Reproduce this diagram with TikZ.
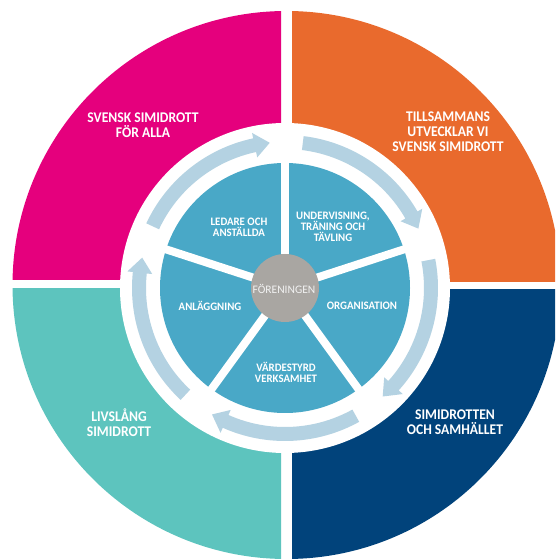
\documentclass[tikz,border=0pt]{standalone}
\usepackage{fontspec}
\newfontfamily\outerfont[FakeStretch=0.92]{Carlito}
\newfontfamily\innerfont[FakeStretch=0.95]{Carlito}
\newfontfamily\hubfont{Carlito}
\definecolor{pinkc}{HTML}{E5007D}
\definecolor{orangec}{HTML}{E96A2D}
\definecolor{tealc}{HTML}{5DC4BE}
\definecolor{navyc}{HTML}{01437B}
\definecolor{bluec}{HTML}{49A8C7}
\definecolor{arrowc}{HTML}{B4D2E2}
\definecolor{grayc}{HTML}{A9A6A2}
\definecolor{hubtext}{HTML}{F2F2F2}
\tikzset{
  outertext/.style={text=white, align=center, font=\outerfont\bfseries\fontsize{14.8}{14.8}\selectfont, inner sep=0pt},
  innertext/.style={text=white, align=center, font=\innerfont\bfseries\fontsize{11.4}{11}\selectfont, inner sep=0pt},
  hubtext/.style={text=hubtext, align=center, font=\hubfont\fontsize{11.5}{12}\selectfont, inner sep=0pt},
  gapline/.style={white, line width=8pt},
}
\begin{document}
\begin{tikzpicture}[x=1pt,y=1pt]
\clip (0,0) rectangle (555,560);
\fill[white] (0,0) rectangle (555,560);
% outer quadrants, centre (286.5,275)
\begin{scope}\clip (0,280) rectangle (281,560); \fill[pinkc] (286.5,275) circle[radius=274pt];\end{scope}
\begin{scope}\clip (292,278) rectangle (560,560); \fill[orangec] (286.5,275) circle[radius=274pt];\end{scope}
\begin{scope}\clip (0,0) rectangle (281,271); \fill[tealc] (286.5,275) circle[radius=274pt];\end{scope}
\begin{scope}\clip (292,0) rectangle (560,270); \fill[navyc] (286.5,275) circle[radius=274pt];\end{scope}
% inner wheel, centre (285,272)
\begin{scope}[shift={(285,272)}]
\fill[white] (0,0) circle[radius=165pt];
\fill[bluec] (0,0) circle[radius=125pt];
\foreach \a in {90,18,-54,-126,162} \draw[gapline] (0,0) -- (\a:131pt);
% circular arrows (clockwise)
\foreach \s in {155,83,11,-61,-133} {
  \pgfmathsetmacro{\t}{\s-59}
  \pgfmathsetmacro{\h}{\t+6}
  \fill[arrowc] (\s:153pt) arc[start angle=\s, end angle=\h, radius=153pt]
     -- (\h:158.5pt) -- (\t:146pt) -- (\h:133.5pt) -- (\h:139pt)
     arc[start angle=\h, end angle=\s, radius=139pt] -- cycle;
}
\fill[grayc] (0,0) circle[radius=34pt];
\end{scope}
% texts
\node[outertext] (q1) at (143,435) {SVENSK SIMIDROTT\\FÖR ALLA};
\node[outertext] (q2) at (448,428.5) {TILLSAMMANS\\UTVECKLAR VI\\SVENSK SIMIDROTT};
\node[outertext] (q3) at (119,137.5) {LIVSLÅNG\\SIMIDROTT};
\node[outertext] (q4) at (455,137.5) {SIMIDROTTEN\\OCH SAMHÄLLET};
\node[innertext] (s1) at (239,332.5) {LEDARE OCH\\ANSTÄLLDA};
\node[innertext] (s2) at (333,333) {UNDERVISNING,\\TRÄNING OCH\\TÄVLING};
\node[innertext] (s3) at (362,254) {ORGANISATION};
\node[innertext] (s4) at (286,187.5) {VÄRDESTYRD\\VERKSAMHET};
\node[innertext] (s5) at (210,254) {ANLÄGGNING};
\node[hubtext] (hub) at (284,271) {FÖRENINGEN};
\end{tikzpicture}
\end{document}
